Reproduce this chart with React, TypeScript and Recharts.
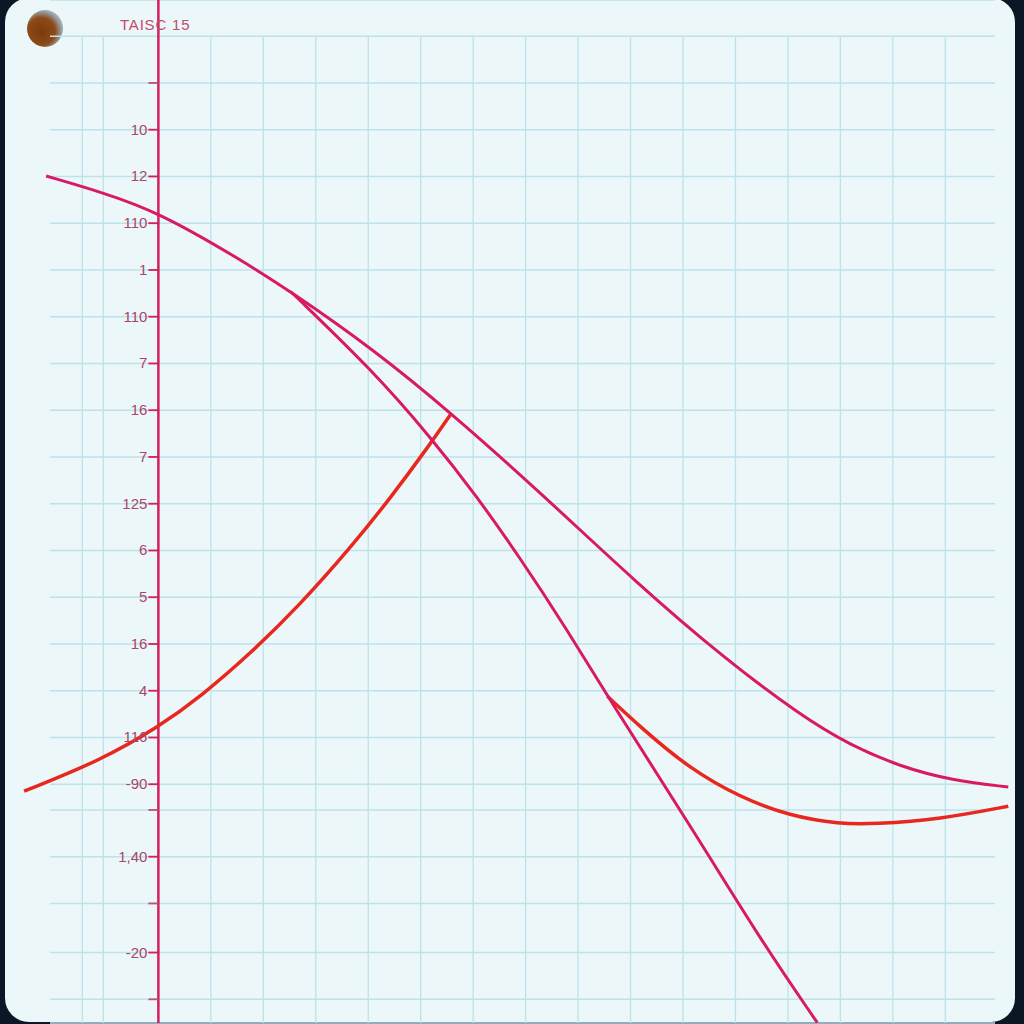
import React from "react";
import { LineChart, Line, XAxis, YAxis, CartesianGrid, ReferenceLine } from "recharts";

// ---- data (grid units) ----
const X_DOMAIN: [number, number] = [-3, 16.5];
const Y_DOMAIN: [number, number] = [-0.107, 21.774];

const X_GRID_TICKS = [-1.45, -1.05, 1, 2, 3, 4, 5, 6, 7, 8, 9, 10, 11, 12, 13, 14, 15];
const GRID_TOP = 21;

const Y_TICKS = [21, 20, 19, 18, 17, 16, 15, 14, 13, 12, 11, 10, 9, 8, 7, 6, 5, 4.45, 3.45, 2.45, 1.4, 0.4];
const Y_LABELS: (string | null)[] = [
  null, "", "10", "12", "110", "1", "110", "7", "16", "7", "125", "6", "5", "16", "4", "116", "-90", "", "1,40", "", "-20", "",
];

const TITLE = "TAISC 15";

const SERIES_A = [
  { x: -2.14, y: 18.01 },
  { x: -1.1, y: 17.67 },
  { x: 0, y: 17.24 },
  { x: 1.57, y: 16.22 },
  { x: 2.52, y: 15.54 },
  { x: 4.1, y: 14.3 },
  { x: 5.57, y: 12.95 },
  { x: 7.28, y: 11.24 },
  { x: 9.13, y: 9.29 },
  { x: 10.77, y: 7.71 },
  { x: 12.24, y: 6.47 },
  { x: 13.19, y: 5.83 },
  { x: 14.14, y: 5.38 },
  { x: 15.09, y: 5.09 },
  { x: 16.2, y: 4.94 },
];

const SERIES_B = [
  { x: 2.52, y: 15.54 },
  { x: 4.1, y: 13.83 },
  { x: 5.19, y: 12.42 },
  { x: 6.05, y: 11.19 },
  { x: 6.9, y: 9.83 },
  { x: 7.76, y: 8.36 },
  { x: 8.56, y: 6.88 },
  { x: 10.22, y: 3.97 },
  { x: 11.51, y: 1.62 },
  { x: 12.56, y: -0.1 },
];

const SERIES_C = [
  { x: -2.56, y: 4.85 },
  { x: -1.1, y: 5.51 },
  { x: 0, y: 6.22 },
  { x: 0.81, y: 6.88 },
  { x: 1.76, y: 7.8 },
  { x: 2.71, y: 8.85 },
  { x: 3.67, y: 10.07 },
  { x: 4.43, y: 11.13 },
  { x: 5.19, y: 12.29 },
  { x: 5.57, y: 12.91 },
];

const SERIES_D = [
  { x: 8.56, y: 6.88 },
  { x: 9.19, y: 6.22 },
  { x: 10.14, y: 5.32 },
  { x: 11.09, y: 4.72 },
  { x: 12.04, y: 4.32 },
  { x: 12.99, y: 4.15 },
  { x: 13.63, y: 4.15 },
  { x: 14.9, y: 4.25 },
  { x: 16.2, y: 4.53 },
];

// ---- layout ----
const W = 1024;
const H = 1024;
const AXIS_W = 1;
const PLOT_W = W - AXIS_W;
const AXIS_PX = AXIS_W + (PLOT_W * (0 - X_DOMAIN[0])) / (X_DOMAIN[1] - X_DOMAIN[0]);
const AXIS_COLOR = "#d41f5c";
const LABEL_COLOR = "#a9466a";
const GRID_COLOR = "#bde2ec";

const YTick = (props: any) => {
  const { y, payload } = props;
  const i = Y_TICKS.findIndex((t) => Math.abs(t - payload.value) < 1e-6);
  const label = i >= 0 ? Y_LABELS[i] : null;
  if (label === null || label === undefined) return <g />;
  return (
    <g>
      <line
        x1={AXIS_PX - 10}
        x2={AXIS_PX}
        y1={y}
        y2={y}
        stroke={label === "" ? "#c0506e" : AXIS_COLOR}
        strokeWidth={1.8}
      />
      {label !== "" && (
        <text
          x={AXIS_PX - 11}
          y={y}
          dy={5}
          textAnchor="end"
          fontFamily="Liberation Sans, Arial, sans-serif"
          fontSize={15}
          fill={LABEL_COLOR}
        >
          {label}
        </text>
      )}
    </g>
  );
};

export default function App() {
  return (
    <div style={{ position: "absolute", left: 0, top: 0, width: W, height: H, background: "#0c1726", overflow: "hidden" }}>
      <div
        style={{
          position: "absolute",
          left: 5,
          top: -2,
          width: 1010,
          height: 1024,
          borderRadius: 24,
          background: "#ecf7fa",
        }}
      />
      <div
        style={{
          position: "absolute",
          left: 27,
          top: 10,
          width: 36,
          height: 37,
          borderRadius: "50%",
          background: "radial-gradient(circle at 40% 58%, #7a3a0c 0%, #8c4a18 45%, #9aa7b0 68%, #c9d4da 100%)",
        }}
      />
      <LineChart
        width={W}
        height={H}
        margin={{ top: 0, right: 0, bottom: 0, left: 0 }}
        style={{ position: "absolute", left: 0, top: 0 }}
      >
        <CartesianGrid x={50} y={36} width={945} height={988} vertical={false} stroke={GRID_COLOR} strokeWidth={1.6} />
        <XAxis
          type="number"
          dataKey="x"
          domain={X_DOMAIN}
          ticks={X_GRID_TICKS}
          interval={0}
          allowDataOverflow
          height={1}
          tick={false}
          axisLine={false}
          tickLine={false}
        />
        <YAxis
          type="number"
          domain={Y_DOMAIN}
          ticks={Y_TICKS}
          interval={0}
          allowDataOverflow
          width={AXIS_W}
          axisLine={false}
          tickLine={false}
          tick={YTick}
        />
        {X_GRID_TICKS.map((v) => (
          <ReferenceLine
            key={v}
            segment={[
              { x: v, y: GRID_TOP },
              { x: v, y: Y_DOMAIN[0] },
            ]}
            stroke={GRID_COLOR}
            strokeWidth={1.3}
          />
        ))}
        <ReferenceLine x={0} stroke={AXIS_COLOR} strokeWidth={2.5} />
        <Line data={SERIES_C} dataKey="y" type="basis" stroke="#e8281e" strokeWidth={3.5} dot={false} activeDot={false} isAnimationActive={false} />
        <Line data={SERIES_D} dataKey="y" type="basis" stroke="#e8281e" strokeWidth={3.5} dot={false} activeDot={false} isAnimationActive={false} />
        <Line data={SERIES_A} dataKey="y" type="basis" stroke="#d91a63" strokeWidth={3} dot={false} activeDot={false} isAnimationActive={false} />
        <Line data={SERIES_B} dataKey="y" type="basis" stroke="#d91a63" strokeWidth={3} dot={false} activeDot={false} isAnimationActive={false} />
      </LineChart>
      <div
        style={{
          position: "absolute",
          left: 120,
          top: 16,
          fontFamily: "Liberation Sans, Arial, sans-serif",
          fontSize: 15,
          letterSpacing: 0.8,
          color: "#c24a6c",
        }}
      >
        {TITLE}
      </div>
    </div>
  );
}
